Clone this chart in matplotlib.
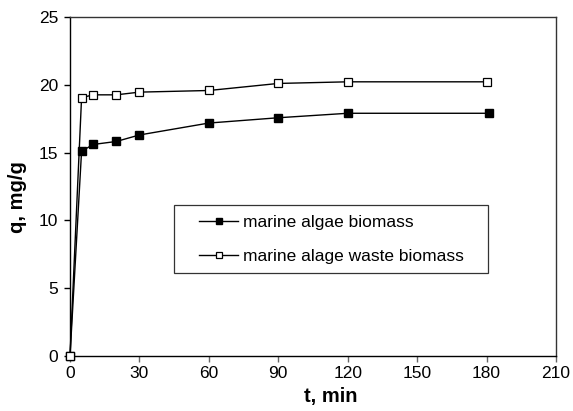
import matplotlib
matplotlib.use("Agg")
import matplotlib.pyplot as plt
from matplotlib.patches import Rectangle

plt.rcParams["font.family"] = ["Liberation Sans", "DejaVu Sans"]

# time points, min
t_algae = [0, 5, 10, 20, 30, 60, 90, 120, 181]
t_waste = [0, 5, 10, 20, 30, 60, 90, 120, 180]
# sorption capacity q, mg/g
q_algae = [0, 15.1, 15.6, 15.82, 16.3, 17.18, 17.57, 17.9, 17.9]
q_waste = [0, 19.05, 19.26, 19.26, 19.46, 19.58, 20.1, 20.22, 20.22]

labels = ["marine algae biomass", "marine alage waste biomass"]
x_ticks = [0, 30, 60, 90, 120, 150, 180, 210]
y_ticks = [0, 5, 10, 15, 20, 25]

fig = plt.figure(figsize=(5.73, 4.11), dpi=100)
ax = fig.add_axes([70 / 573, 1 - 356 / 411, 486 / 573, 339 / 411])

ax.plot(t_algae, q_algae, color="black", lw=1.0, marker="s", ms=5.5,
        mfc="black", mec="black", label=labels[0], clip_on=False, zorder=3)
ax.plot(t_waste, q_waste, color="black", lw=1.0, marker="s", ms=5.5,
        mfc="white", mec="black", mew=0.9, label=labels[1], clip_on=False, zorder=3)

ax.set_xlim(0, 210)
ax.set_ylim(0, 25)
ax.set_xticks(x_ticks)
ax.set_yticks(y_ticks)
ax.tick_params(direction="out", length=4, width=1, labelsize=12.5)
ax.tick_params(axis="y", pad=4.5)
ax.tick_params(axis="x", color="#666666", pad=3)
for s in ax.spines.values():
    s.set_linewidth(1.0)
ax.spines["top"].set_color("#333333")
ax.spines["right"].set_color("#333333")

ax.set_xlabel("t, min", fontsize=14.5, fontweight="bold")
ax.set_ylabel("q, mg/g", fontsize=14.5, fontweight="bold")
ax.xaxis.set_label_coords((331 - 70) / 486, -0.09)
ax.yaxis.set_label_coords(-0.088, 0.469)

# legend frame drawn separately so the box can be wider than its content
ax.add_patch(Rectangle((0.214, 0.2455), 0.646, 0.2, transform=ax.transAxes,
                       facecolor="white", edgecolor="#333333", lw=0.9, zorder=4))
leg = ax.legend(loc="upper left", bbox_to_anchor=(0.2654, 0.416),
                fontsize=12.5, frameon=False, handlelength=2.25,
                borderpad=0, borderaxespad=0, labelspacing=1.09,
                handletextpad=0.27, markerscale=0.8)
leg.set_zorder(5)

fig.savefig("out.png", dpi=100)
